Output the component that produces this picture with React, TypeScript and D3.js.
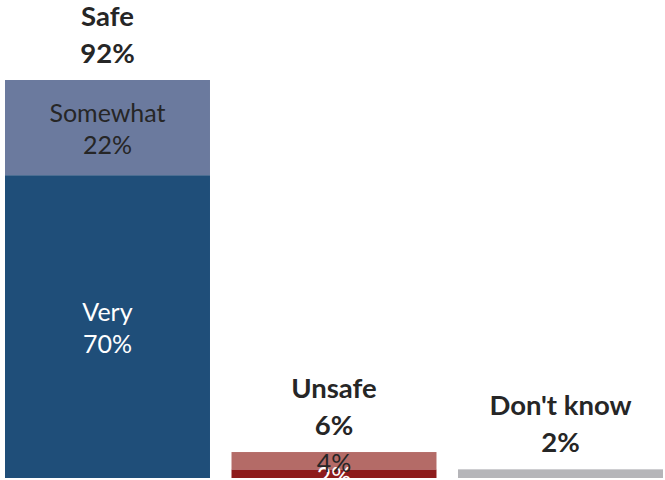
import React from "react";
import * as d3 from "d3";

const categories = ["Safe", "Unsafe", "Don't know"];
const totals = [92, 6, 2];
// stacked segments per category (bottom to top)
const segmentNames = [["Very", "Somewhat"], ["", ""], [""]];
const segmentValues = [[70, 22], [2, 4], [2]];
const segmentColors = [["#1f4e79", "#6b7a9e"], ["#8d1c1c", "#b46b67"], ["#b5b5b9"]];
const segmentTextColors = [["#ffffff", "#262626"], ["#ffffff", "#262626"], ["#262626"]];

const W = 665;
const H = 480;

export default function App() {
  const x = d3.scaleBand<string>().domain(categories).range([5, 663]).paddingInner(0.095).paddingOuter(0);
  const y = d3.scaleLinear().domain([0, 92]).range([478, 80]);
  const font = "Lato, 'Open Sans', sans-serif";

  return (
    <div style={{ position: "fixed", left: 0, top: 0 }}>
      <svg width={W} height={H} style={{ display: "block" }}>
        <rect width={W} height={H} fill="#ffffff" />
        {categories.map((cat, i) => {
          const bx = x(cat)!;
          const bw = x.bandwidth();
          let acc = 0;
          const segs = segmentValues[i].map((v, j) => {
            const y0 = y(acc);
            const y1 = y(acc + v);
            acc += v;
            return { v, j, y0, y1 };
          });
          return (
            <g key={cat}>
              {segs.map((s) => (
                <rect key={s.j} x={bx} y={s.y1} width={bw} height={s.y0 - s.y1} fill={segmentColors[i][s.j]} />
              ))}
              {segs.map((s) => {
                if (i === 2) return null;
                const cy = (s.y0 + s.y1) / 2;
                const name = segmentNames[i][s.j];
                const col = segmentTextColors[i][s.j];
                return name ? (
                  <text key={"l" + s.j} x={bx + bw / 2} textAnchor="middle" fontFamily={font} fontSize={25} fill={col}>
                    <tspan x={bx + bw / 2} y={cy - 6}>{name}</tspan>
                    <tspan x={bx + bw / 2} y={cy + 26}>{s.v + "%"}</tspan>
                  </text>
                ) : (
                  <text key={"l" + s.j} x={bx + bw / 2} y={cy + 11} textAnchor="middle" fontFamily={font} fontSize={25} fill={col}>
                    {s.v + "%"}
                  </text>
                );
              })}
              <text textAnchor="middle" fontFamily={font} fontWeight="bold" fontSize={27.5} fill="#262626">
                <tspan x={bx + bw / 2} y={y(totals[i]) - 54}>{cat}</tspan>
                <tspan x={bx + bw / 2} y={y(totals[i]) - 17}>{totals[i] + "%"}</tspan>
              </text>
            </g>
          );
        })}
      </svg>
    </div>
  );
}
